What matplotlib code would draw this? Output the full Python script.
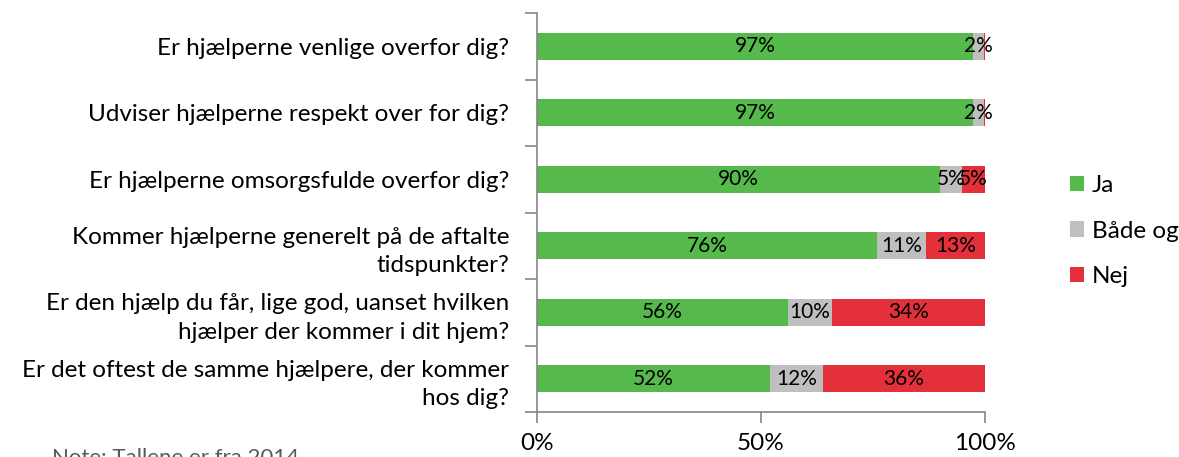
import matplotlib.pyplot as plt
import numpy as np

plt.rcParams['font.family'] = ['Lato', 'DejaVu Sans']

questions = [
    "Er hjælperne venlige overfor dig?",
    "Udviser hjælperne respekt over for dig?",
    "Er hjælperne omsorgsfulde overfor dig?",
    "Kommer hjælperne generelt på de aftalte\ntidspunkter?",
    "Er den hjælp du får, lige god, uanset hvilken\nhjælper der kommer i dit hjem?",
    "Er det oftest de samme hjælpere, der kommer\nhos dig?",
]
ja = [97.4, 97.4, 90, 76, 56, 52]
baade = [2.4, 2.4, 5, 11, 10, 12]
nej = [0.2, 0.2, 5, 13, 34, 36]

series = ["Ja", "Både og", "Nej"]
colors = ["#55B94B", "#BFBFBF", "#E3303B"]
axis_col = "#868686"

fig = plt.figure(figsize=(11.79, 4.57), dpi=100)
ax = fig.add_axes([537 / 1179, 1 - 412 / 457, 447.6 / 1179, 399 / 457])

y = np.arange(len(questions))
left = np.zeros(len(questions))
for name, vals, c in zip(series, [ja, baade, nej], colors):
    vals = np.array(vals, dtype=float)
    ax.barh(y, vals, left=left, height=0.4, color=c, label=name)
    for yi, l, v in zip(y, left, vals):
        if v >= 1:
            ax.text(l + v / 2, yi, f"{v:.0f}%", ha='center', va='center',
                    fontsize=15, color='black')
    left += vals

ax.set_xlim(0, 100)
ax.set_ylim(len(questions) - 0.5, -0.5)
ax.set_xticks([0, 50, 100])
ax.set_xticklabels(["0%", "50%", "100%"], fontsize=17.5)
ax.set_yticks(y)
ax.set_yticklabels(questions, fontsize=17.5, linespacing=1.45)
ax.tick_params(axis='y', length=0, pad=20)
ax.tick_params(axis='x', length=8, color=axis_col, width=1.2, pad=7)
ax.set_yticks(np.arange(len(questions) + 1) - 0.5, minor=True)
ax.tick_params(axis='y', which='minor', length=9, color=axis_col, width=1.2)

for side in ['top', 'right']:
    ax.spines[side].set_visible(False)
for side in ['left', 'bottom']:
    ax.spines[side].set_color(axis_col)
    ax.spines[side].set_linewidth(1.2)

fig.legend(loc='center left', bbox_to_anchor=(1060 / 1179, 1 - 231 / 457),
           frameon=False, fontsize=17.5, handlelength=0.6, handleheight=0.6,
           handletextpad=0.3, labelspacing=1.0, borderaxespad=0)

fig.text(52 / 1179, 1 - 448 / 457, "Note: Tallene er fra 2014", fontsize=16,
         color="#595959", va='top', ha='left')

fig.savefig("out.png", dpi=100)
